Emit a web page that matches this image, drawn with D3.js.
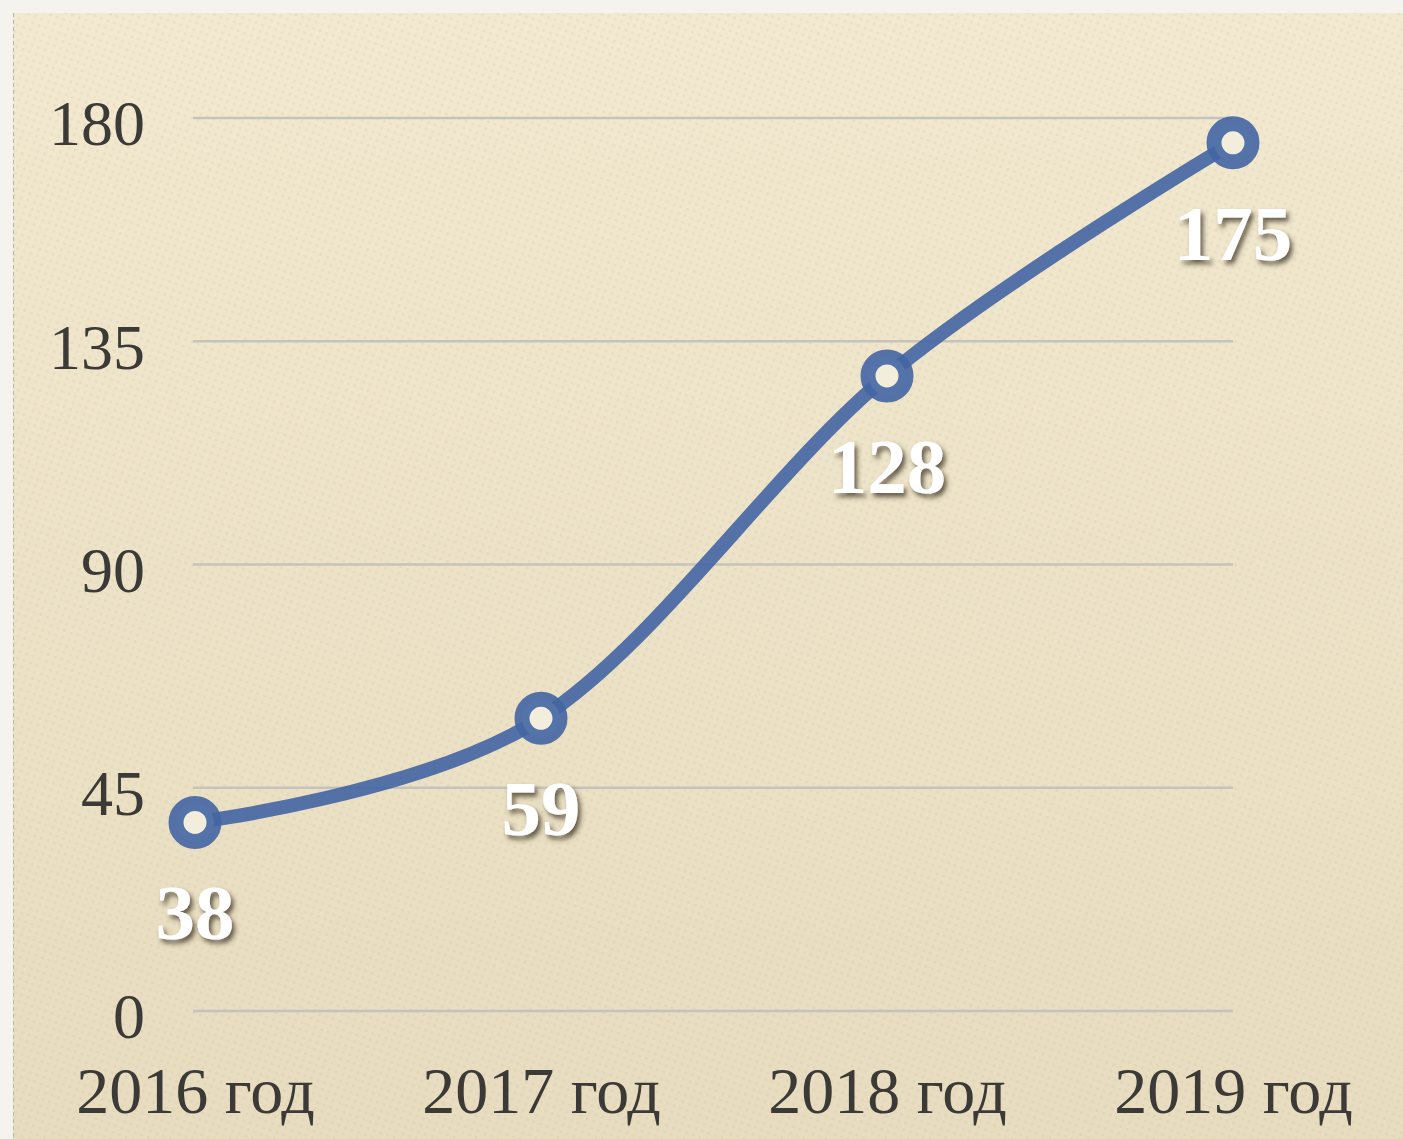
<!DOCTYPE html>
<html>
<head>
<meta charset="utf-8">
<script src="https://cdn.jsdelivr.net/npm/d3@7"></script>
<style>
  html, body { margin: 0; padding: 0; background: #f5f3ee; }
  svg { display: block; }
</style>
</head>
<body>
<div id="chart"></div>
<script>
const categories = ["2016 год", "2017 год", "2018 год", "2019 год"];
const values = [38, 59, 128, 175];
const yTicks = [0, 45, 90, 135, 180];

const W = 1403, H = 1139;
const svg = d3.select("#chart").append("svg").attr("width", W).attr("height", H);
const defs = svg.append("defs");

const grad = defs.append("linearGradient").attr("id", "bg").attr("x1", 0).attr("y1", 0).attr("x2", 0).attr("y2", 1);
grad.append("stop").attr("offset", "0%").attr("stop-color", "#f2e9d0");
grad.append("stop").attr("offset", "100%").attr("stop-color", "#e7dcbf");

const pat = defs.append("pattern").attr("id", "dots").attr("width", 7).attr("height", 7)
  .attr("patternUnits", "userSpaceOnUse").attr("patternTransform", "rotate(20)");
pat.append("circle").attr("cx", 3.5).attr("cy", 3.5).attr("r", 1.6).attr("fill", "#c9b98f").attr("opacity", 0.18);

const shadow = defs.append("filter").attr("id", "shadow").attr("x", "-20%").attr("y", "-20%").attr("width", "150%").attr("height", "150%");
shadow.append("feGaussianBlur").attr("in", "SourceAlpha").attr("stdDeviation", 2.5).attr("result", "blur");
shadow.append("feOffset").attr("dx", 3).attr("dy", 4).attr("result", "off");
shadow.append("feFlood").attr("flood-color", "#3a3020").attr("flood-opacity", 0.75);
shadow.append("feComposite").attr("in2", "off").attr("operator", "in").attr("result", "sh");
const merge = shadow.append("feMerge");
merge.append("feMergeNode").attr("in", "sh");
merge.append("feMergeNode").attr("in", "SourceGraphic");

svg.append("rect").attr("x", 13).attr("y", 13).attr("width", W - 13).attr("height", H - 13).attr("fill", "url(#bg)");
svg.append("rect").attr("x", 13).attr("y", 13).attr("width", W - 13).attr("height", H - 13).attr("fill", "url(#dots)");
svg.append("line").attr("x1", 13.5).attr("x2", 13.5).attr("y1", 13).attr("y2", H)
  .attr("stroke", "#b8b4aa").attr("stroke-width", 1).attr("stroke-dasharray", "4,3");

const x = d3.scalePoint().domain(categories).range([195, 1233]);
const y = d3.scaleLinear().domain([0, 180]).range([1011, 118]);

const font = "'Liberation Serif', 'DejaVu Serif', serif";

// gridlines
svg.append("g").selectAll("line").data(yTicks).join("line")
  .attr("x1", 193).attr("x2", 1233)
  .attr("y1", d => y(d)).attr("y2", d => y(d))
  .attr("stroke", "#c6c3bc").attr("stroke-width", 2.5);

// y axis labels
const yAxis = d3.axisLeft(y).tickValues(yTicks).tickSize(0).tickPadding(0);
const gy = svg.append("g").attr("transform", "translate(145,0)").call(yAxis);
gy.select(".domain").remove();
gy.selectAll("text").attr("font-family", font).attr("font-size", 64).attr("fill", "#3b3a36")
  .attr("dy", "0.42em");

// x axis labels
const xAxis = d3.axisBottom(x).tickSize(0).tickPadding(0);
const gx = svg.append("g").attr("transform", "translate(0,1113)").call(xAxis);
gx.select(".domain").remove();
gx.selectAll("text").attr("font-family", font).attr("font-size", 66).attr("fill", "#3b3a36")
  .attr("dy", "0");

// line
const data = categories.map((c, i) => ({ c, v: values[i] }));
const line = d3.line().x(d => x(d.c)).y(d => y(d.v)).curve(d3.curveCardinal.tension(0));
svg.append("path").datum(data).attr("d", line)
  .attr("fill", "none").attr("stroke", "#4265a3").attr("stroke-opacity", 0.9)
  .attr("stroke-width", 14).attr("stroke-linecap", "round");

// markers
svg.append("g").selectAll("circle").data(data).join("circle")
  .attr("cx", d => x(d.c)).attr("cy", d => y(d.v)).attr("r", 19)
  .attr("fill", "#f3eddc").attr("stroke", "#4265a3").attr("stroke-opacity", 0.9).attr("stroke-width", 15);

// data labels
svg.append("g").selectAll("text").data(data).join("text")
  .attr("x", d => x(d.c)).attr("y", d => y(d.v) + 117)
  .attr("text-anchor", "middle")
  .attr("font-family", font).attr("font-weight", "bold").attr("font-size", 79)
  .attr("fill", "#ffffff").attr("filter", "url(#shadow)")
  .text(d => d.v);
</script>
</body>
</html>
